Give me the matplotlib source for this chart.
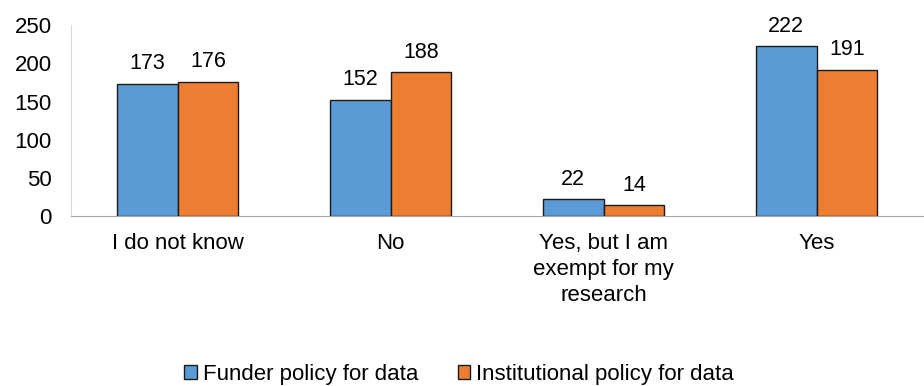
import numpy as np
import matplotlib.pyplot as plt

plt.rcParams["font.family"] = ["Liberation Sans", "DejaVu Sans"]

categories = ["I do not know", "No", "Yes, but I am\nexempt for my\nresearch", "Yes"]
funder = [173, 152, 22, 222]
institutional = [176, 188, 14, 191]
series_names = ["Funder policy for data", "Institutional policy for data"]
colors = ["#5B9BD5", "#ED7D31"]

fig = plt.figure(figsize=(9.24, 3.86), dpi=100)
ax = fig.add_axes([0.077, 0.44, 0.922, 0.495])

x = np.arange(len(categories))
w = 0.285
bars1 = ax.bar(x - w / 2, funder, w, color=colors[0], edgecolor="#1a1a1a",
               linewidth=1.0, label=series_names[0])
bars2 = ax.bar(x + w / 2, institutional, w, color=colors[1], edgecolor="#1a1a1a",
               linewidth=1.0, label=series_names[1])

for bars in (bars1, bars2):
    for b in bars:
        ax.annotate(str(int(b.get_height())),
                    (b.get_x() + b.get_width() / 2, b.get_height()),
                    xytext=(0, 7), textcoords="offset points",
                    ha="center", va="bottom", fontsize=15.5)

ax.set_xlim(-0.5, 3.5)
ax.set_ylim(0, 250)
ax.set_yticks(range(0, 251, 50))
ax.set_xticks(x)
ax.set_xticklabels(categories, fontsize=16, linespacing=1.33)
ax.tick_params(axis="y", length=0, labelsize=16, pad=14)
ax.tick_params(axis="x", length=0, pad=12)

for s in ("top", "right"):
    ax.spines[s].set_visible(False)
ax.spines["left"].set_color("#d9d9d9")
ax.spines["bottom"].set_color("#a6a6a6")

fig.legend(loc="center", bbox_to_anchor=(0.497, 0.03), ncol=2, frameon=False,
           fontsize=16, handlelength=0.55, handleheight=0.55, handletextpad=0.27,
           columnspacing=1.8, borderpad=0, borderaxespad=0)

fig.savefig("out.png", dpi=100)
